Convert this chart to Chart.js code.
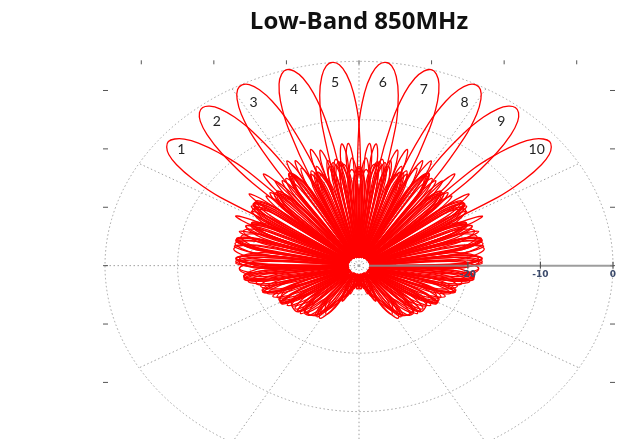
<!DOCTYPE html>
<html>
<head>
<meta charset="utf-8">
<script src="https://cdn.jsdelivr.net/npm/chart.js@4.4.1/dist/chart.umd.min.js"></script>
<style>
  html, body { margin: 0; padding: 0; background: #fff; overflow: hidden; }
  #wrap { position: relative; width: 630px; height: 480px; }
</style>
</head>
<body>
<div id="wrap"><canvas id="chart"></canvas></div>
<script>
// polar scale: radius = dB - floorDb
const floorDb = -35;
const ringDb = [-30, -20, -10, 0];
const spokeAngles = [0, 30, 60, 120, 150, 180, 210, 240, 270, 300, 330];
const axisTickDb = [-20, -10, 0];
const frameTicks = [-30, -20, -10, 0, 10, 20, 30];

const beamNames = ["1", "2", "3", "4", "5", "6", "7", "8", "9", "10"];
const beamPeaks = [-51, -38.5, -27.5, -16.5, -6, 6, 16.5, 27.5, 38.5, 51];
const peakDb = [-1.2, -0.4, -0.1, 0, 0, 0, 0, -0.1, -0.4, -1.2];
const labelDb = -3.5;

// degrees away from the beam peak, same on both sides
const sideOffsets = [1.5,3,4.5,6,7.5,9.5, 11,12.5,14,16, 17.5,19.5,21.5,23.5,
  25.5,28,30.5,33, 35,37.5,40,42.5, 44.5,47.5,50.5,53, 55,58,61,64,
  66,69.5,73,76, 78,81.5,85,88, 90,94,98,101, 103.5,108,112.5,116,
  119,124,129,133, 137,143,149,154, 162,172,180];

// L = towards negative angles, R = towards positive angles (dB)
const beam1L = [-1.6,-2.6,-4.5,-7.6,-12.6,-31, -18.5,-16,-19,-33.5, -20.5,-17.5,-20.5,-33,
  -20.5,-17.5,-20.5,-33.5, -21,-18,-21,-32.5, -22,-19,-22,-33.5, -24,-21,-24,-33,
  -25.5,-22.5,-25.5,-33.5, -26.5,-23.5,-26.5,-33, -27.5,-24.5,-27.5,-33.5, -31,-28.5,-31,-33,
  -33,-31,-33,-33.5, -32,-30,-32,-33.5, -25.5,-24,-29];
const beam1R = [-1.6,-2.6,-4.5,-7.6,-12.6,-31, -19,-16.5,-19.5,-33, -20,-17,-20,-33.5,
  -21,-18,-21,-33, -20.5,-17.5,-20.5,-33.5, -21.5,-18.5,-21.5,-32.5, -20.5,-17.5,-20.5,-33.5,
  -21.5,-18.5,-21.5,-33, -20.5,-17.5,-20.5,-33.5, -21,-18,-21,-33, -20.5,-17.5,-20.5,-33.5,
  -21,-18,-21,-33, -21.5,-18.5,-21.5,-33.5, -24.5,-22.5,-29];
const beam2L = [-0.8,-2,-4.3,-8,-14.6,-33.5, -18,-15.5,-18.5,-33.5, -20.5,-17.5,-20.5,-33,
  -21,-18,-21,-33.5, -20.5,-17.5,-20.5,-32.5, -21,-18,-21,-33.5, -22,-19,-22,-33,
  -24,-21,-24,-33.5, -25.5,-22.5,-25.5,-33, -26.5,-23.5,-26.5,-33.5, -27.5,-24.5,-27.5,-33,
  -31.5,-29.5,-31.5,-33.5, -33,-31.5,-33,-33.5, -31,-26,-28];
const beam2R = [-0.8,-2,-4.3,-8,-14.6,-33.5, -17.5,-15,-18,-33, -20,-17,-20,-33.5,
  -20.5,-17.5,-20.5,-33, -21.5,-18.5,-21.5,-33.5, -20,-17,-20,-32.5, -21,-18,-21,-33.5,
  -20,-17,-20,-33, -21.5,-18.5,-21.5,-33.5, -20.5,-17.5,-20.5,-33, -21,-18,-21,-33.5,
  -21.5,-18.5,-21.5,-33, -24,-21,-24,-33.5, -24,-23.5,-28];
const beam3L = [-0.5,-1.9,-4.4,-8.7,-17,-33.5, -17,-14.5,-17.5,-33.5, -20.5,-17.5,-20.5,-33,
  -20,-17,-20,-33.5, -21.5,-18.5,-21.5,-32.5, -20.5,-17.5,-20.5,-33.5, -21,-18,-21,-33,
  -22,-19,-22,-33.5, -24,-21,-24,-33, -25.5,-22.5,-25.5,-33.5, -26.5,-23.5,-26.5,-33,
  -28,-25.5,-28,-33.5, -32.5,-31,-32.5,-33.5, -32.5,-29.5,-28];
const beam3R = [-0.5,-1.9,-4.4,-8.7,-17,-33.5, -17,-14.5,-17.5,-33, -20,-17,-20,-33.5,
  -21,-18,-21,-33, -19.5,-16.5,-19.5,-33.5, -21,-18,-21,-32.5, -20,-17,-20,-33.5,
  -21.5,-18.5,-21.5,-33, -20,-17,-20,-33.5, -21,-18,-21,-33, -20.5,-17.5,-20.5,-33.5,
  -22,-19,-22,-33, -25.5,-22.5,-25.5,-33.5, -24.5,-24.5,-28];
const beam4L = [-0.5,-2,-4.8,-9.6,-19,-33.5, -17,-14.5,-17.5,-33.5, -20,-17,-20,-33,
  -20.5,-17.5,-20.5,-33.5, -20,-17,-20,-32.5, -21.5,-18.5,-21.5,-33.5, -20.5,-17.5,-20.5,-33,
  -21,-18,-21,-33.5, -22,-19,-22,-33, -24.5,-21.5,-24.5,-33.5, -26,-23,-26,-33,
  -27,-24,-27,-33.5, -31,-28.5,-31,-33.5, -33,-31.5,-31];
const beam4R = [-0.5,-2,-4.8,-9.6,-19,-33.5, -16.5,-14,-17,-33, -19.5,-16.5,-19.5,-33.5,
  -20,-17,-20,-33, -21,-18,-21,-33.5, -19.5,-16.5,-19.5,-32.5, -21,-18,-21,-33.5,
  -20,-17,-20,-33, -21.5,-18.5,-21.5,-33.5, -20.5,-17.5,-20.5,-33, -21.5,-18.5,-21.5,-33.5,
  -24,-21,-24,-33, -26.5,-23.5,-26.5,-33.5, -25,-28,-31];
const beam5L = [-0.5,-2.2,-5.3,-10.8,-25,-33.5, -16.5,-14,-17,-33, -19.5,-16.5,-19.5,-33.5,
  -20,-17,-20,-33, -21,-18,-21,-33.5, -20,-17,-20.5,-32.5, -21.5,-18.5,-21.5,-33.5,
  -20.5,-17.5,-20.5,-33, -21,-18,-21,-33.5, -22.5,-19.5,-22.5,-33, -25,-22,-25,-33.5,
  -26.5,-23.5,-26.5,-33, -27.5,-24.5,-27.5,-33.5, -32,-31,-32];
const beam5R = [-0.5,-2.2,-5.3,-10.8,-25,-33.5, -16.5,-14,-17,-33.5, -19.5,-16.5,-19,-33,
  -20.5,-17.5,-20.5,-33.5, -19.5,-16.5,-19.5,-32.5, -21,-18,-21,-33.5, -20,-17,-20,-33,
  -21.5,-18.5,-21.5,-33.5, -20.5,-17.5,-20.5,-32.5, -21.5,-18.5,-21.5,-33.5, -23.5,-20.5,-23.5,-33,
  -25.5,-22.5,-25.5,-33.5, -27,-24,-27,-33.5, -29,-30.5,-32];
const beam6L = [-0.5,-2.2,-5.3,-10.8,-25,-33.5, -16.5,-14,-17,-33.5, -19,-16.5,-19.5,-33,
  -20.5,-17.5,-20.5,-33.5, -19.5,-16.5,-19.5,-32.5, -21,-18,-21,-33.5, -20,-17,-20,-33,
  -21.5,-18.5,-21.5,-33.5, -20.5,-17.5,-20.5,-32.5, -21.5,-18.5,-21.5,-33.5, -23.5,-20.5,-23.5,-33,
  -25.5,-22.5,-25.5,-33.5, -27,-24,-27,-33.5, -29,-30.5,-32];
const beam6R = [-0.5,-2.2,-5.3,-10.8,-25,-33.5, -16.5,-14,-17,-33, -19.5,-16.5,-19.5,-33.5,
  -20,-17,-20,-33, -21,-18,-21,-33.5, -20.5,-17,-20,-32.5, -21.5,-18.5,-21.5,-33.5,
  -20.5,-17.5,-20.5,-33, -21,-18,-21,-33.5, -22.5,-19.5,-22.5,-33, -25,-22,-25,-33.5,
  -26.5,-23.5,-26.5,-33, -27.5,-24.5,-27.5,-33.5, -32,-31,-32];
const beam7L = [-0.5,-2,-4.8,-9.6,-19,-33.5, -17,-14,-16.5,-33, -19.5,-16.5,-19.5,-33.5,
  -20,-17,-20,-33, -21,-18,-21,-33.5, -19.5,-16.5,-19.5,-32.5, -21,-18,-21,-33.5,
  -20,-17,-20,-33, -21.5,-18.5,-21.5,-33.5, -20.5,-17.5,-20.5,-33, -21.5,-18.5,-21.5,-33.5,
  -24,-21,-24,-33, -26.5,-23.5,-26.5,-33.5, -25,-28,-31];
const beam7R = [-0.5,-2,-4.8,-9.6,-19,-33.5, -17.5,-14.5,-17,-33.5, -20,-17,-20,-33,
  -20.5,-17.5,-20.5,-33.5, -20,-17,-20,-32.5, -21.5,-18.5,-21.5,-33.5, -20.5,-17.5,-20.5,-33,
  -21,-18,-21,-33.5, -22,-19,-22,-33, -24.5,-21.5,-24.5,-33.5, -26,-23,-26,-33,
  -27,-24,-27,-33.5, -31,-28.5,-31,-33.5, -33,-31.5,-31];
const beam8L = [-0.5,-1.9,-4.4,-8.7,-17,-33.5, -17.5,-14.5,-17,-33, -20,-17,-20,-33.5,
  -21,-18,-21,-33, -19.5,-16.5,-19.5,-33.5, -21,-18,-21,-32.5, -20,-17,-20,-33.5,
  -21.5,-18.5,-21.5,-33, -20,-17,-20,-33.5, -21,-18,-21,-33, -20.5,-17.5,-20.5,-33.5,
  -22,-19,-22,-33, -25.5,-22.5,-25.5,-33.5, -24.5,-24.5,-28];
const beam8R = [-0.5,-1.9,-4.4,-8.7,-17,-33.5, -17.5,-14.5,-17,-33.5, -20.5,-17.5,-20.5,-33,
  -20,-17,-20,-33.5, -21.5,-18.5,-21.5,-32.5, -20.5,-17.5,-20.5,-33.5, -21,-18,-21,-33,
  -22,-19,-22,-33.5, -24,-21,-24,-33, -25.5,-22.5,-25.5,-33.5, -26.5,-23.5,-26.5,-33,
  -28,-25.5,-28,-33.5, -32.5,-31,-32.5,-33.5, -32.5,-29.5,-28];
const beam9L = [-0.8,-2,-4.3,-8,-14.6,-33.5, -18,-15,-17.5,-33, -20,-17,-20,-33.5,
  -20.5,-17.5,-20.5,-33, -21.5,-18.5,-21.5,-33.5, -20,-17,-20,-32.5, -21,-18,-21,-33.5,
  -20,-17,-20,-33, -21.5,-18.5,-21.5,-33.5, -20.5,-17.5,-20.5,-33, -21,-18,-21,-33.5,
  -21.5,-18.5,-21.5,-33, -24,-21,-24,-33.5, -24,-23.5,-28];
const beam9R = [-0.8,-2,-4.3,-8,-14.6,-33.5, -18.5,-15.5,-18,-33.5, -20.5,-17.5,-20.5,-33,
  -21,-18,-21,-33.5, -20.5,-17.5,-20.5,-32.5, -21,-18,-21,-33.5, -22,-19,-22,-33,
  -24,-21,-24,-33.5, -25.5,-22.5,-25.5,-33, -26.5,-23.5,-26.5,-33.5, -27.5,-24.5,-27.5,-33,
  -31.5,-29.5,-31.5,-33.5, -33,-31.5,-33,-33.5, -31,-26,-28];
const beam10L = [-1.6,-2.6,-4.5,-7.6,-12.6,-31, -19.5,-16.5,-19,-33, -20,-17,-20,-33.5,
  -21,-18,-21,-33, -20.5,-17.5,-20.5,-33.5, -21.5,-18.5,-21.5,-32.5, -20.5,-17.5,-20.5,-33.5,
  -21.5,-18.5,-21.5,-33, -20.5,-17.5,-20.5,-33.5, -21,-18,-21,-33, -20.5,-17.5,-20.5,-33.5,
  -21,-18,-21,-33, -21.5,-18.5,-21.5,-33.5, -24.5,-22.5,-29];
const beam10R = [-1.6,-2.6,-4.5,-7.6,-12.6,-31, -19,-16,-18.5,-33.5, -20.5,-17.5,-20.5,-33,
  -20.5,-17.5,-20.5,-33.5, -21,-18,-21,-32.5, -22,-19,-22,-33.5, -24,-21,-24,-33,
  -25.5,-22.5,-25.5,-33.5, -26.5,-23.5,-26.5,-33, -27.5,-24.5,-27.5,-33.5, -31,-28.5,-31,-33,
  -33,-31,-33,-33.5, -32,-30,-32,-33.5, -25.5,-24,-29];

const beamSides = [
  [beam1L, beam1R], [beam2L, beam2R], [beam3L, beam3R], [beam4L, beam4R], [beam5L, beam5R],
  [beam6L, beam6R], [beam7L, beam7R], [beam8L, beam8R], [beam9L, beam9R], [beam10L, beam10R],
];

function toXY(deg, db) {
  const a = (deg * Math.PI) / 180;
  const r = Math.max(db - floorDb, 0);
  return { x: r * Math.sin(a), y: r * Math.cos(a) };
}

function beamPoints(b) {
  const [left, right] = beamSides[b];
  const peak = beamPeaks[b];
  const pts = [];
  for (let i = sideOffsets.length - 1; i >= 0; i--) pts.push(toXY(peak - sideOffsets[i], left[i]));
  pts.push(toXY(peak, peakDb[b]));
  for (let i = 0; i < sideOffsets.length; i++) pts.push(toXY(peak + sideOffsets[i], right[i]));
  return pts;
}

const datasets = beamNames.map((name, b) => ({
  label: name,
  data: beamPoints(b),
  showLine: true,
  borderColor: "#ff0000",
  borderWidth: 1.3,
  pointRadius: 0,
  tension: 0.4,
  fill: false,
}));

function polarFrame(chart) {
  const { x, y } = chart.scales;
  const cx = x.getPixelForValue(0);
  const cy = y.getPixelForValue(0);
  return { cx, cy, sx: x.getPixelForValue(1) - cx, sy: cy - y.getPixelForValue(1) };
}

const polarGrid = {
  id: "polarGrid",
  beforeDatasetsDraw(chart) {
    const { ctx, chartArea } = chart;
    const { cx, cy, sx, sy } = polarFrame(chart);
    const rMax = 0 - floorDb;
    ctx.save();
    ctx.strokeStyle = "#a0a0a0";
    ctx.lineWidth = 1;
    ctx.setLineDash([1.5, 2.5]);
    ringDb.forEach((db) => {
      const r = db - floorDb;
      ctx.beginPath();
      ctx.ellipse(cx, cy, r * sx, r * sy, 0, 0, Math.PI * 2);
      ctx.stroke();
    });
    spokeAngles.forEach((deg) => {
      const a = (deg * Math.PI) / 180;
      ctx.beginPath();
      ctx.moveTo(cx, cy);
      ctx.lineTo(cx + rMax * sx * Math.sin(a), cy - rMax * sy * Math.cos(a));
      ctx.stroke();
    });
    ctx.setLineDash([]);
    // box ticks (top, left, right)
    ctx.strokeStyle = "#555";
    ctx.beginPath();
    frameTicks.forEach((v) => {
      const px = chart.scales.x.getPixelForValue(v);
      const py = chart.scales.y.getPixelForValue(v);
      ctx.moveTo(px, chartArea.top - 1);
      ctx.lineTo(px, chartArea.top + 3);
      ctx.moveTo(chartArea.left - 2, py);
      ctx.lineTo(chartArea.left + 3, py);
      ctx.moveTo(chartArea.right - 3, py);
      ctx.lineTo(chartArea.right + 2, py);
    });
    ctx.stroke();
    ctx.restore();
  },
  afterDatasetsDraw(chart) {
    const { ctx } = chart;
    const { cx, cy, sx, sy } = polarFrame(chart);
    const rMax = 0 - floorDb;
    ctx.save();
    // radial axis along the right
    ctx.strokeStyle = "rgba(140,140,140,0.85)";
    ctx.lineWidth = 2;
    ctx.beginPath();
    ctx.moveTo(cx + 10, cy);
    ctx.lineTo(cx + rMax * sx, cy);
    ctx.stroke();
    ctx.strokeStyle = "#555";
    ctx.lineWidth = 1.2;
    ctx.font = "bold 9px 'DejaVu Sans'";
    ctx.fillStyle = "#3b4a6b";
    ctx.textAlign = "center";
    ctx.textBaseline = "top";
    axisTickDb.forEach((db) => {
      const px = cx + (db - floorDb) * sx;
      ctx.beginPath();
      ctx.moveTo(px, cy - 4);
      ctx.lineTo(px, cy + 3);
      ctx.stroke();
      ctx.fillText(String(db), px, cy + 5);
    });
    // beam numbers
    ctx.font = "14px Lato";
    ctx.fillStyle = "#222";
    ctx.textBaseline = "middle";
    beamNames.forEach((name, b) => {
      const p = toXY(beamPeaks[b], labelDb);
      ctx.fillText(name, cx + p.x * sx, cy - p.y * sy);
    });
    ctx.restore();
  },
};

new Chart(document.getElementById("chart"), {
  type: "scatter",
  data: { datasets },
  options: {
    responsive: true,
    maintainAspectRatio: false,
    animation: false,
    layout: { padding: { left: 105, right: 17, top: 0, bottom: 10 } },
    scales: {
      x: { type: "linear", min: floorDb, max: -floorDb, display: false },
      y: { type: "linear", min: floorDb, max: -floorDb, display: false },
    },
    plugins: {
      legend: { display: false },
      tooltip: { enabled: false },
      title: {
        display: true,
        text: "Low-Band 850MHz",
        color: "#111",
        font: { family: "Open Sans", size: 24, weight: "bold", lineHeight: 1.2 },
        padding: { top: 8, bottom: 24.5 },
      },
    },
  },
  plugins: [polarGrid],
});
</script>
</body>
</html>
